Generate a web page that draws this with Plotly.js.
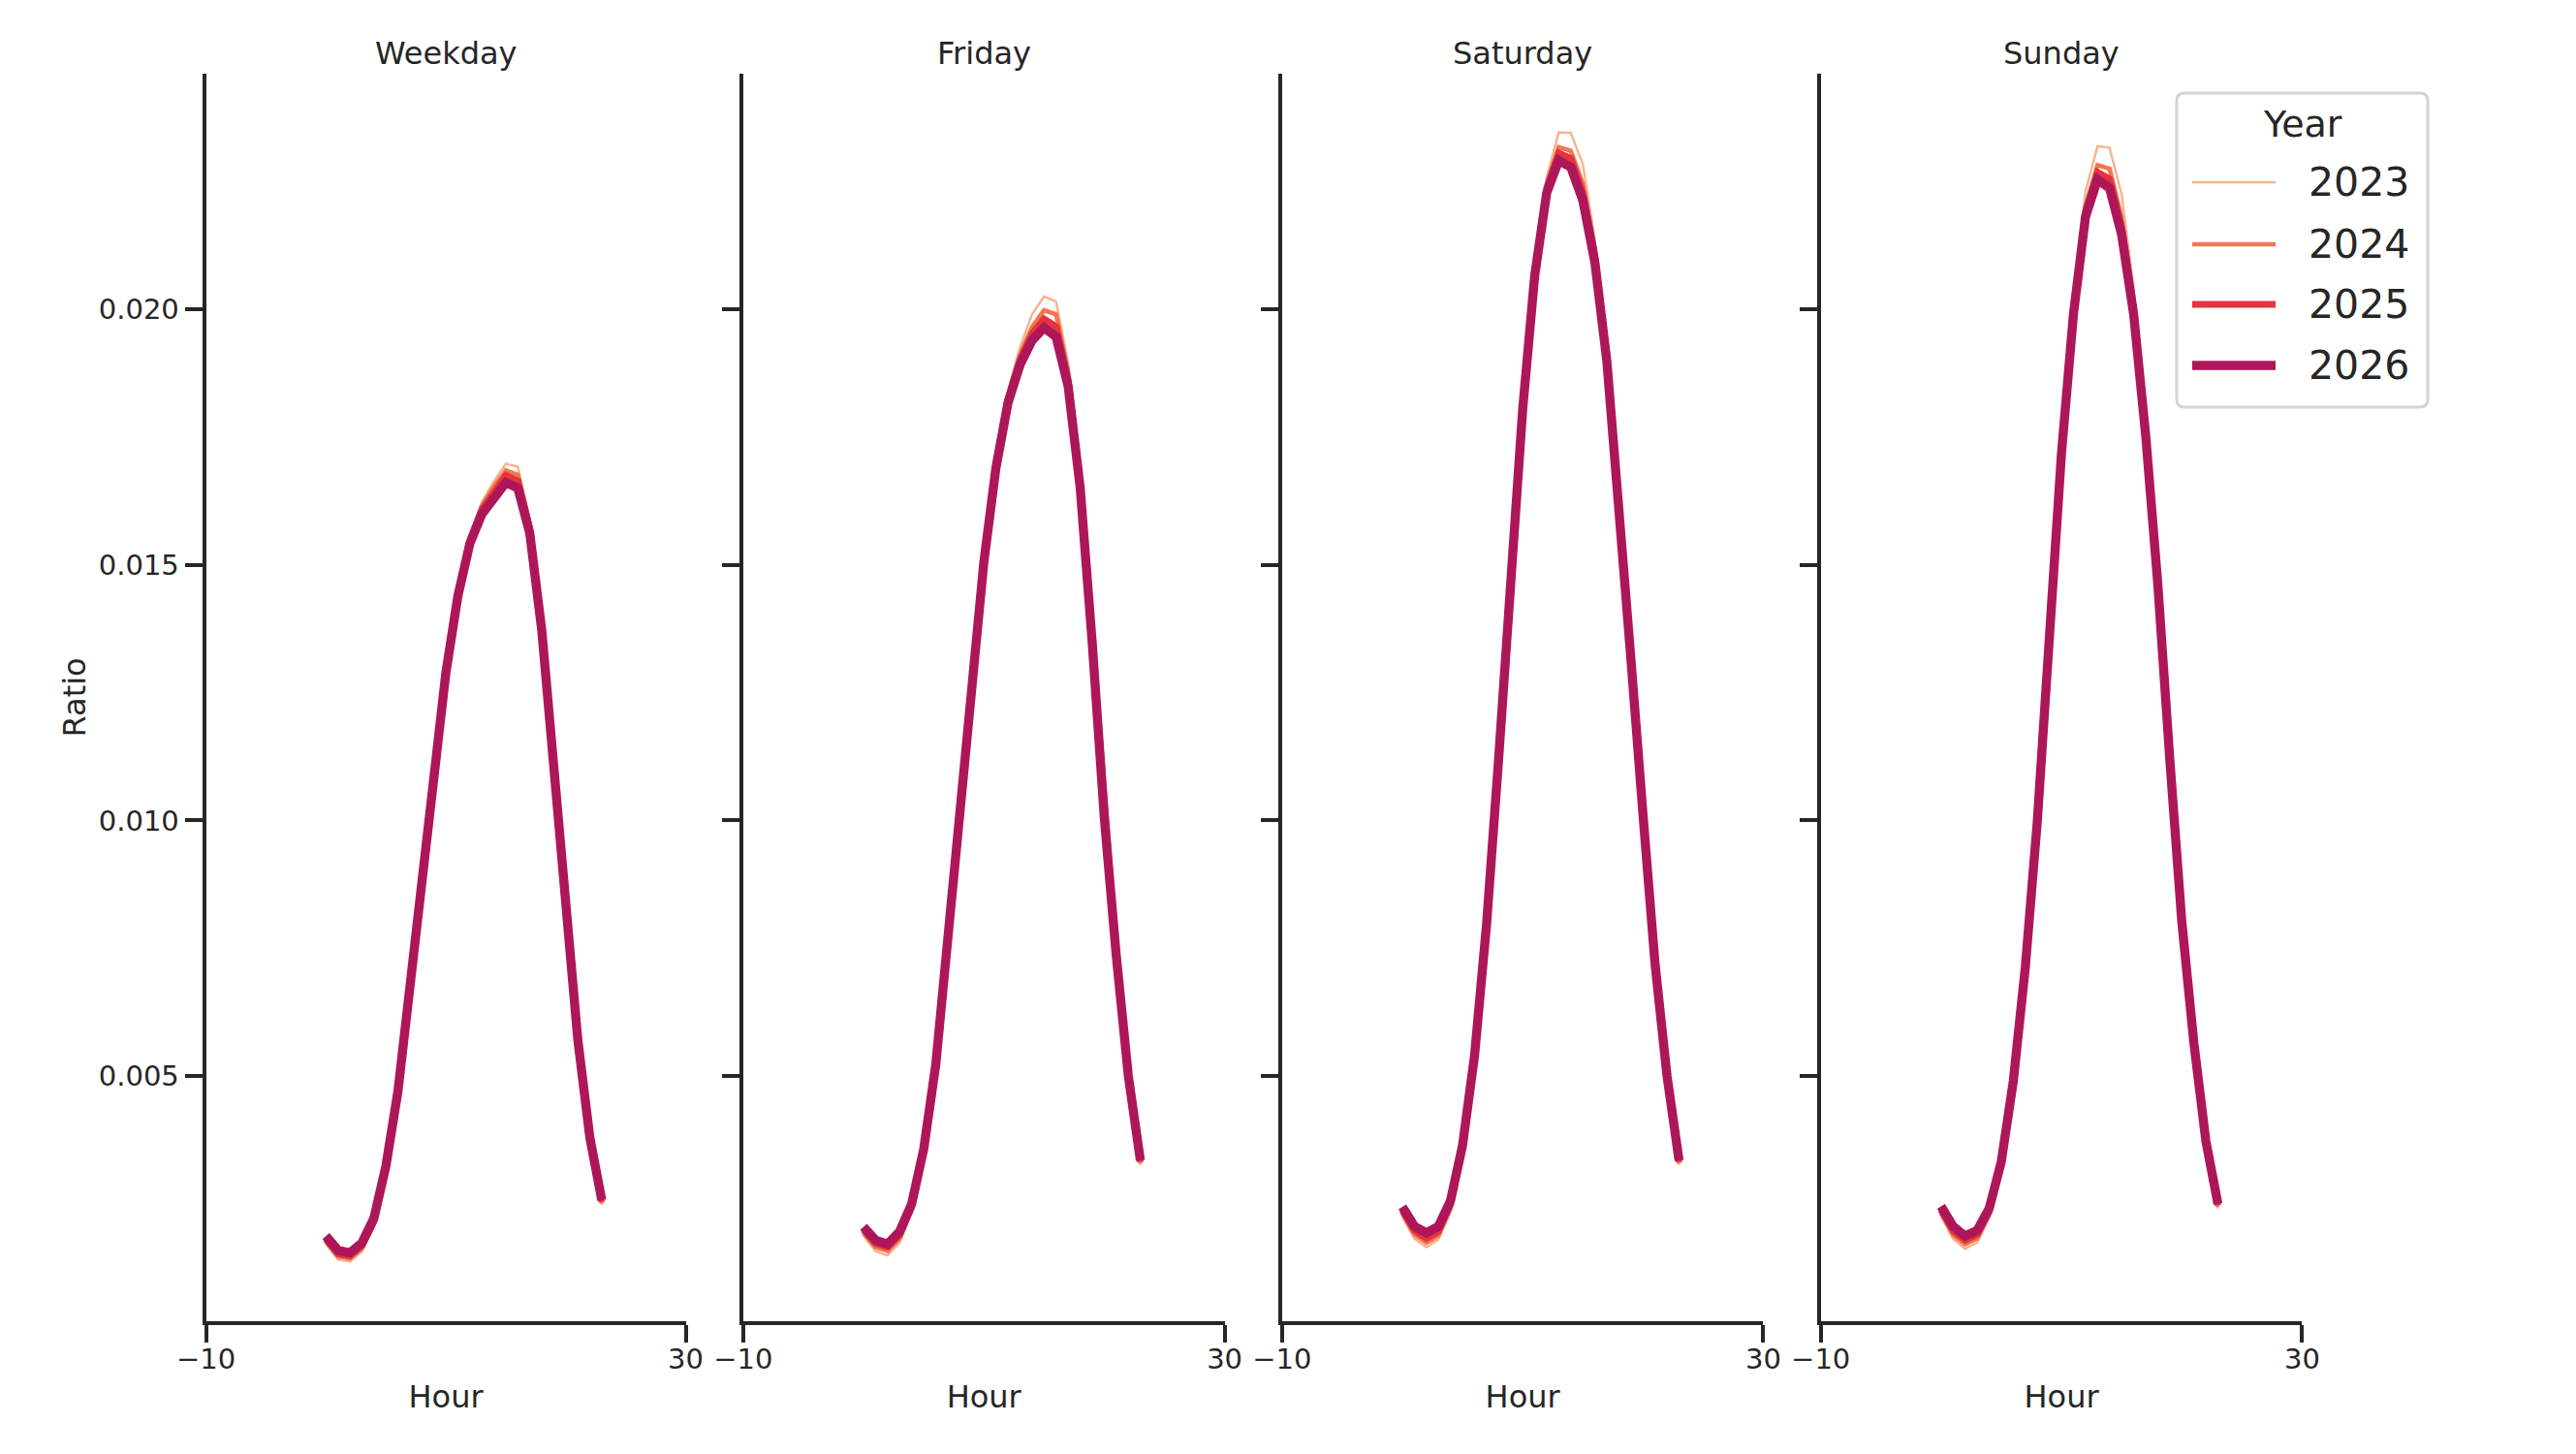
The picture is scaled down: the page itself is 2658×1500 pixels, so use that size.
<!DOCTYPE html>
<html>
<head>
<meta charset="utf-8">
<script src="https://cdn.plot.ly/plotly-3.0.1.min.js"></script>
<style>
  html, body { margin: 0; padding: 0; background: #fff; }
  #chart { width: 2658px; height: 1500px; }
</style>
</head>
<body>
<div id="chart"></div>
<script>
// hourly share of trips, one panel per day type, one line per year
const hours = [0, 1, 2, 3, 4, 5, 6, 7, 8, 9, 10, 11, 12, 13, 14, 15, 16, 17, 18, 19, 20, 21, 22, 23];
const panels = ["Weekday", "Friday", "Saturday", "Sunday"];
const years = ["2023", "2024", "2025", "2026"];
const colors = ["#f7b38e", "#f37651", "#e3343f", "#ad1759"];
const widths = [2.4, 4.6, 6.9, 9.4];

const weekday2023 = [0.00171, 0.00141, 0.00137, 0.00157, 0.00206, 0.00311, 0.00462, 0.00662, 0.00890, 0.01097, 0.01296, 0.01452, 0.01559, 0.01623, 0.01663, 0.01698, 0.01692, 0.01589, 0.01383, 0.01108, 0.00835, 0.00566, 0.00374, 0.00248];
const weekday2024 = [0.00176, 0.00147, 0.00143, 0.00163, 0.00211, 0.00315, 0.00464, 0.00663, 0.00890, 0.01096, 0.01293, 0.01447, 0.01553, 0.01615, 0.01653, 0.01685, 0.01676, 0.01579, 0.01379, 0.01107, 0.00836, 0.00568, 0.00376, 0.00251];
const weekday2025 = [0.00181, 0.00152, 0.00148, 0.00168, 0.00216, 0.00319, 0.00467, 0.00665, 0.00891, 0.01095, 0.01291, 0.01443, 0.01548, 0.01608, 0.01644, 0.01675, 0.01664, 0.01571, 0.01375, 0.01106, 0.00837, 0.00570, 0.00378, 0.00254];
const weekday2026 = [0.00187, 0.00159, 0.00154, 0.00174, 0.00222, 0.00324, 0.00470, 0.00667, 0.00892, 0.01095, 0.01289, 0.01439, 0.01542, 0.01599, 0.01633, 0.01661, 0.01650, 0.01561, 0.01371, 0.01105, 0.00837, 0.00571, 0.00380, 0.00257];

const friday2023 = [0.00188, 0.00157, 0.00149, 0.00174, 0.00234, 0.00347, 0.00515, 0.00753, 0.01012, 0.01258, 0.01513, 0.01704, 0.01841, 0.01926, 0.01990, 0.02025, 0.02015, 0.01893, 0.01673, 0.01354, 0.01006, 0.00729, 0.00494, 0.00326];
const friday2024 = [0.00193, 0.00165, 0.00158, 0.00182, 0.00239, 0.00350, 0.00517, 0.00754, 0.01012, 0.01257, 0.01510, 0.01698, 0.01831, 0.01911, 0.01965, 0.01998, 0.01990, 0.01877, 0.01665, 0.01351, 0.01006, 0.00731, 0.00496, 0.00329];
const friday2025 = [0.00199, 0.00172, 0.00165, 0.00189, 0.00244, 0.00353, 0.00519, 0.00755, 0.01012, 0.01256, 0.01508, 0.01694, 0.01824, 0.01901, 0.01952, 0.01981, 0.01966, 0.01863, 0.01658, 0.01349, 0.01006, 0.00733, 0.00498, 0.00332];
const friday2026 = [0.00205, 0.00179, 0.00171, 0.00196, 0.00250, 0.00357, 0.00522, 0.00757, 0.01013, 0.01256, 0.01506, 0.01690, 0.01817, 0.01891, 0.01939, 0.01964, 0.01946, 0.01849, 0.01651, 0.01347, 0.01006, 0.00735, 0.00500, 0.00335];

const saturday2023 = [0.00225, 0.00182, 0.00165, 0.00180, 0.00235, 0.00351, 0.00533, 0.00793, 0.01119, 0.01476, 0.01814, 0.02086, 0.02259, 0.02346, 0.02345, 0.02284, 0.02137, 0.01923, 0.01637, 0.01318, 0.01009, 0.00714, 0.00494, 0.00326];
const saturday2024 = [0.00231, 0.00190, 0.00174, 0.00188, 0.00241, 0.00355, 0.00535, 0.00794, 0.01119, 0.01474, 0.01810, 0.02077, 0.02245, 0.02317, 0.02310, 0.02246, 0.02117, 0.01913, 0.01632, 0.01317, 0.01010, 0.00716, 0.00496, 0.00329];
const saturday2025 = [0.00237, 0.00198, 0.00182, 0.00196, 0.00248, 0.00359, 0.00537, 0.00795, 0.01119, 0.01473, 0.01807, 0.02071, 0.02237, 0.02306, 0.02295, 0.02229, 0.02104, 0.01905, 0.01628, 0.01316, 0.01011, 0.00718, 0.00498, 0.00332];
const saturday2026 = [0.00244, 0.00206, 0.00193, 0.00206, 0.00256, 0.00364, 0.00540, 0.00797, 0.01120, 0.01472, 0.01804, 0.02066, 0.02228, 0.02291, 0.02278, 0.02213, 0.02092, 0.01898, 0.01624, 0.01315, 0.01012, 0.00720, 0.00500, 0.00335];

const sunday2023 = [0.00226, 0.00181, 0.00162, 0.00174, 0.00223, 0.00320, 0.00483, 0.00709, 0.00999, 0.01351, 0.01727, 0.02011, 0.02231, 0.02319, 0.02316, 0.02225, 0.02042, 0.01778, 0.01474, 0.01123, 0.00799, 0.00559, 0.00367, 0.00241];
const sunday2024 = [0.00232, 0.00189, 0.00171, 0.00182, 0.00229, 0.00324, 0.00485, 0.00710, 0.00999, 0.01350, 0.01723, 0.02003, 0.02201, 0.02282, 0.02275, 0.02179, 0.02012, 0.01765, 0.01470, 0.01122, 0.00800, 0.00561, 0.00369, 0.00244];
const sunday2025 = [0.00238, 0.00197, 0.00179, 0.00190, 0.00235, 0.00328, 0.00487, 0.00711, 0.00999, 0.01349, 0.01720, 0.01997, 0.02193, 0.02268, 0.02255, 0.02161, 0.02000, 0.01759, 0.01467, 0.01121, 0.00801, 0.00563, 0.00371, 0.00247];
const sunday2026 = [0.00245, 0.00206, 0.00187, 0.00198, 0.00241, 0.00332, 0.00490, 0.00713, 0.01000, 0.01349, 0.01717, 0.01991, 0.02181, 0.02254, 0.02237, 0.02146, 0.01990, 0.01753, 0.01464, 0.01120, 0.00802, 0.00565, 0.00373, 0.00250];

const series = [
  [weekday2023, weekday2024, weekday2025, weekday2026],
  [friday2023, friday2024, friday2025, friday2026],
  [saturday2023, saturday2024, saturday2025, saturday2026],
  [sunday2023, sunday2024, sunday2025, sunday2026]
];

const W = 2658, H = 1500;
const ink = "#262626";
const font = "DejaVu Sans, sans-serif";
const domains = [[0.0800, 0.2662], [0.2885, 0.4754], [0.4977, 0.6845], [0.7068, 0.8937]];
const yDomain = [0.0915, 0.9493];

let data = [];
let layout = {
  width: W,
  height: H,
  margin: { l: 0, r: 0, t: 0, b: 0 },
  paper_bgcolor: "#fff",
  plot_bgcolor: "#fff",
  font: { family: font, color: ink, size: 29 },
  showlegend: false,
  annotations: [],
  shapes: []
};

for (let p = 0; p < panels.length; p++) {
  const n = p === 0 ? "" : String(p + 1);
  for (let k = 0; k < years.length; k++) {
    data.push({
      x: hours,
      y: series[p][k],
      xaxis: "x" + n,
      yaxis: "y" + n,
      type: "scatter",
      mode: "lines",
      name: years[k],
      line: { color: colors[k], width: widths[k] },
      hoverinfo: "skip"
    });
  }

  layout["xaxis" + n] = {
    domain: domains[p],
    anchor: "y" + n,
    range: [-10, 30],
    tickvals: [-10, 30],
    ticktext: ["\u221210", "30"],
    ticks: "outside",
    ticklen: 18,
    tickwidth: 4,
    tickcolor: ink,
    ticklabelstandoff: -8,
    showline: true,
    linecolor: ink,
    linewidth: 4,
    showgrid: false,
    zeroline: false,
    tickfont: { size: 29, family: font, color: ink },
    title: { text: "Hour", font: { size: 32, family: font, color: ink }, standoff: 13 },
    automargin: false,
    fixedrange: true
  };

  layout["yaxis" + n] = {
    domain: yDomain,
    anchor: "x" + n,
    range: [0.000208, 0.024608],
    tickvals: [0.005, 0.010, 0.015, 0.020],
    ticktext: ["0.005", "0.010", "0.015", "0.020"],
    showticklabels: p === 0,
    ticks: "outside",
    ticklen: 18,
    tickwidth: 4,
    tickcolor: ink,
    showline: true,
    linecolor: ink,
    linewidth: 4,
    showgrid: false,
    zeroline: false,
    tickfont: { size: 29, family: font, color: ink },
    title: p === 0 ? { text: "Ratio", font: { size: 32, family: font, color: ink }, standoff: 5 } : { text: "" },
    automargin: false,
    fixedrange: true
  };

  layout.annotations.push({
    text: panels[p],
    xref: "paper",
    yref: "paper",
    x: (domains[p][0] + domains[p][1]) / 2,
    y: yDomain[1],
    xanchor: "center",
    yanchor: "bottom",
    yshift: 0,
    showarrow: false,
    font: { size: 32, family: font, color: ink }
  });
}

// legend box drawn by hand so the line samples can be long like the original
const box = { x0: 2246 / W, x1: 2505 / W, y0: 1 - 420 / H, y1: 1 - 96 / H };
const rx = 8 / W, ry = 8 / H;
layout.shapes.push({
  type: "path",
  xref: "paper",
  yref: "paper",
  path: `M ${box.x0 + rx},${box.y0} L ${box.x1 - rx},${box.y0} Q ${box.x1},${box.y0} ${box.x1},${box.y0 + ry} ` +
        `L ${box.x1},${box.y1 - ry} Q ${box.x1},${box.y1} ${box.x1 - rx},${box.y1} ` +
        `L ${box.x0 + rx},${box.y1} Q ${box.x0},${box.y1} ${box.x0},${box.y1 - ry} ` +
        `L ${box.x0},${box.y0 + ry} Q ${box.x0},${box.y0} ${box.x0 + rx},${box.y0} Z`,
  line: { color: "#d4d4d4", width: 3 },
  fillcolor: "rgba(255,255,255,0.8)",
  layer: "above"
});

layout.annotations.push({
  text: "Year",
  xref: "paper",
  yref: "paper",
  x: (box.x0 + box.x1) / 2,
  y: 1 - 128 / H,
  xanchor: "center",
  yanchor: "middle",
  showarrow: false,
  font: { size: 38, family: font, color: ink }
});

const rows = [188, 252, 314, 377];
for (let k = 0; k < years.length; k++) {
  const yy = 1 - rows[k] / H;
  layout.shapes.push({
    type: "line",
    xref: "paper",
    yref: "paper",
    x0: 2262 / W,
    x1: 2348 / W,
    y0: yy,
    y1: yy,
    line: { color: colors[k], width: widths[k] },
    layer: "above"
  });
  layout.annotations.push({
    text: years[k],
    xref: "paper",
    yref: "paper",
    x: 2380 / W,
    y: yy,
    xanchor: "left",
    yanchor: "middle",
    showarrow: false,
    font: { size: 41, family: font, color: ink }
  });
}

Plotly.newPlot("chart", data, layout, { displayModeBar: false, staticPlot: true });
</script>
</body>
</html>
